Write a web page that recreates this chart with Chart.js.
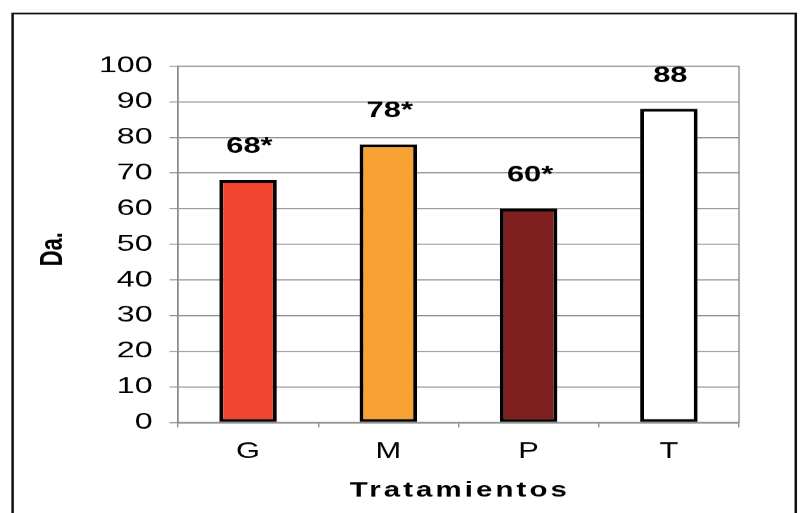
<!DOCTYPE html>
<html>
<head>
<meta charset="utf-8">
<script src="https://cdn.jsdelivr.net/npm/chart.js@4/dist/chart.umd.min.js"></script>
<style>
  html, body { margin: 0; padding: 0; background: #fff; overflow: hidden; }
  #wrap { width: 576px; height: 513px; transform: scaleX(1.401); transform-origin: 0 0; }
</style>
</head>
<body>
<div id="wrap"><canvas id="chart" width="576" height="513"></canvas></div>
<script>
// Da. por tratamiento
const categories = ['G', 'M', 'P', 'T'];
const values = [68, 78, 60, 88];
const marks = ['*', '*', '*', ''];
const barColors = ['#f2432e', '#f7a233', '#7d1f1f', '#ffffff'];
const yTicks = [0, 10, 20, 30, 40, 50, 60, 70, 80, 90, 100];
const xTitle = 'Tratamientos';
const yTitle = 'Da.';

const gridColor = '#8c8c8c';
const fontFamily = '"Liberation Sans", Arial, sans-serif';

const framePlugin = {
  id: 'frame',
  beforeDraw(chart) {
    const ctx = chart.ctx;
    ctx.save();
    ctx.fillStyle = '#fff';
    ctx.fillRect(0, 0, chart.width, chart.height);
    ctx.strokeStyle = '#111';
    ctx.lineWidth = 1.8;
    ctx.strokeRect(9, 13.5, 559, 560);
    ctx.restore();
  },
  afterDraw(chart) {
    const { ctx, chartArea: a } = chart;
    ctx.save();
    ctx.strokeStyle = gridColor;
    ctx.lineWidth = 1;
    ctx.strokeRect(a.left, a.top, a.right - a.left, a.bottom - a.top);

    // axis titles
    ctx.fillStyle = '#000';
    ctx.font = 'bold 21px ' + fontFamily;
    ctx.textAlign = 'center';
    ctx.textBaseline = 'middle';
    ctx.letterSpacing = '2.2px';
    ctx.fillText(xTitle, (a.left + a.right) / 2 + 1, 490);
    ctx.letterSpacing = '0px';
    ctx.font = 'bold 22px ' + fontFamily;
    ctx.translate(38, 249);
    ctx.rotate(-Math.PI / 2);
    ctx.fillText(yTitle, 0, 0);
    ctx.restore();
  }
};

const valueLabels = {
  id: 'valueLabels',
  afterDatasetsDraw(chart) {
    const ctx = chart.ctx;
    const meta = chart.getDatasetMeta(0);
    ctx.save();
    ctx.fillStyle = '#000';
    ctx.font = 'bold 22px ' + fontFamily;
    ctx.textAlign = 'center';
    ctx.textBaseline = 'middle';
    meta.data.forEach((bar, i) => {
      ctx.fillText(values[i] + marks[i], bar.x + 1, bar.y - 33);
    });
    ctx.restore();
  }
};

new Chart(document.getElementById('chart'), {
  type: 'bar',
  data: {
    labels: categories,
    datasets: [{
      data: values,
      backgroundColor: barColors,
      borderColor: '#000',
      borderWidth: 2.8,
      borderSkipped: false,
      barPercentage: 0.41,
      categoryPercentage: 1
    }]
  },
  options: {
    responsive: false,
    devicePixelRatio: 1.401,
    animation: false,
    layout: { padding: { left: 0, right: 48.5, top: 66, bottom: 0 } },
    plugins: {
      legend: { display: false },
      tooltip: { enabled: false }
    },
    scales: {
      x: {
        afterFit: s => { s.height = 91; },
        grid: {
          offset: true,
          drawOnChartArea: false,
          drawTicks: true,
          tickLength: 5,
          color: gridColor
        },
        border: { color: gridColor, width: 1 },
        ticks: {
          color: '#000',
          padding: 11,
          font: { family: fontFamily, size: 22 }
        }
      },
      y: {
        min: 0,
        max: 100,
        afterFit: s => { s.width = 127; },
        afterBuildTicks: s => { s.ticks = yTicks.map(v => ({ value: v })); },
        grid: {
          color: gridColor,
          lineWidth: 1,
          tickLength: 6
        },
        border: { color: gridColor, width: 1 },
        ticks: {
          color: '#000',
          padding: 12,
          font: { family: fontFamily, size: 23 }
        }
      }
    }
  },
  plugins: [framePlugin, valueLabels]
});
</script>
</body>
</html>
